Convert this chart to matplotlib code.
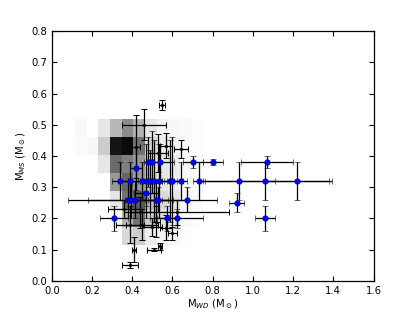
import numpy as np
import matplotlib
matplotlib.use('Agg')
import matplotlib.pyplot as plt


# background 2D density (rows from top, 0 = white, 1 = black)
density = np.array([
    [0.03, 0.00, 0.10, 0.28, 0.45, 0.30, 0.10, 0.05, 0.03, 0.02, 0.01],
    [0.02, 0.03, 0.20, 0.92, 0.96, 0.55, 0.15, 0.07, 0.05, 0.02, 0.01],
    [0.00, 0.00, 0.10, 0.58, 0.50, 0.40, 0.15, 0.10, 0.08, 0.03, 0.02],
    [0.00, 0.00, 0.00, 0.40, 0.60, 0.40, 0.20, 0.10, 0.07, 0.03, 0.02],
    [0.00, 0.00, 0.00, 0.10, 0.55, 0.65, 0.25, 0.15, 0.10, 0.04, 0.02],
    [0.00, 0.00, 0.00, 0.03, 0.30, 0.55, 0.20, 0.12, 0.08, 0.03, 0.01],
    [0.00, 0.00, 0.00, 0.00, 0.15, 0.20, 0.07, 0.05, 0.03, 0.01, 0.00],
])

# systems with both masses (blue)
m_wd = [0.31, 0.34, 0.39, 0.42, 0.379, 0.392, 0.413, 0.45, 0.47, 0.49, 0.51,
        0.535, 0.59, 0.60, 0.64, 0.73, 0.93, 1.062, 1.221, 0.47, 0.518, 0.526,
        0.67, 0.92, 0.572, 0.62, 1.062, 0.48, 0.50, 0.54, 0.70, 0.80, 1.07]
m_ms = [0.20, 0.32, 0.32, 0.36, 0.26, 0.26, 0.26, 0.32, 0.32, 0.32, 0.32,
        0.32, 0.32, 0.32, 0.32, 0.32, 0.32, 0.32, 0.32, 0.28, 0.26, 0.26,
        0.26, 0.25, 0.20, 0.20, 0.20, 0.38, 0.38, 0.38, 0.38, 0.38, 0.38]
m_wd_err = [0.07, 0.04, 0.06, 0.03, 0.30, 0.21, 0.05, 0.05, 0.04, 0.05, 0.04,
            0.04, 0.03, 0.05, 0.03, 0.03, 0.18, 0.33, 0.16, 0.06, 0.03, 0.05,
            0.15, 0.037, 0.05, 0.13, 0.05, 0.02, 0.03, 0.07, 0.05, 0.05, 0.13]
m_ms_err = [0.04, 0.06, 0.06, 0.07, 0.06, 0.06, 0.06, 0.06, 0.12, 0.10, 0.13,
            0.12, 0.13, 0.14, 0.06, 0.06, 0.06, 0.06, 0.06, 0.04, 0.06, 0.04,
            0.04, 0.03, 0.04, 0.03, 0.04, 0.08, 0.10, 0.06, 0.02, 0.01, 0.02]

# other systems (black)
o_wd = [0.547, 0.46, 0.568, 0.642, 0.53, 0.42, 0.39, 0.409, 0.389, 0.508,
        0.54, 0.60, 0.518, 0.497, 0.45, 0.57, 0.44, 0.62, 0.36]
o_ms = [0.563, 0.50, 0.433, 0.422, 0.41, 0.43, 0.18, 0.10, 0.05, 0.10,
        0.11, 0.152, 0.19, 0.172, 0.18, 0.17, 0.22, 0.22, 0.23]
o_wd_err = [0.015, 0.11, 0.03, 0.035, 0.05, 0.02, 0.07, 0.01, 0.04, 0.035,
            0.01, 0.02, 0.02, 0.05, 0.08, 0.03, 0.05, 0.26, 0.08]
o_ms_err = [0.015, 0.05, 0.04, 0.03, 0.06, 0.10, 0.06, 0.04, 0.01, 0.005,
            0.01, 0.02, 0.05, 0.03, 0.05, 0.04, 0.05, 0.04, 0.03]


fig = plt.figure(figsize=(4.15, 3.12), dpi=100)
ax = fig.add_subplot(111)

x_edges = 0.115 + 0.058 * np.arange(density.shape[1] + 1)
y_edges = 0.52 - 0.058 * np.arange(density.shape[0] + 1)
ax.pcolormesh(x_edges, y_edges, density, cmap='gray_r', vmin=0, vmax=1, zorder=1)

ax.errorbar(o_wd, o_ms, xerr=o_wd_err, yerr=o_ms_err, fmt='.', color='k',
            ms=2.5, elinewidth=0.9, capsize=2, capthick=0.7, ecolor='k', zorder=2)
ax.errorbar(m_wd, m_ms, xerr=m_wd_err, yerr=m_ms_err, fmt='o', color='blue',
            mec='#000080', mew=0.4, ms=4, ecolor='k', elinewidth=0.9,
            capsize=2, capthick=0.7, zorder=3)

ax.set_xlim(0.0, 1.6)
ax.set_ylim(0.0, 0.8)
ax.set_xticks(np.arange(0, 1.61, 0.2))
ax.set_yticks(np.arange(0, 0.81, 0.1))
ax.tick_params(direction='in', top=True, right=True, labelsize=7.2, length=3.5)
ax.set_xlabel(r'M$_{WD}$ (M$_\odot$)', fontsize=7.2, labelpad=1)
ax.set_ylabel(r'M$_{MS}$ (M$_\odot$)', fontsize=7.2, labelpad=2)
for s in ax.spines.values():
    s.set_linewidth(0.9)

fig.subplots_adjust(left=0.125, right=0.9, bottom=0.1, top=0.9)
fig.savefig('out.png', dpi=100)
